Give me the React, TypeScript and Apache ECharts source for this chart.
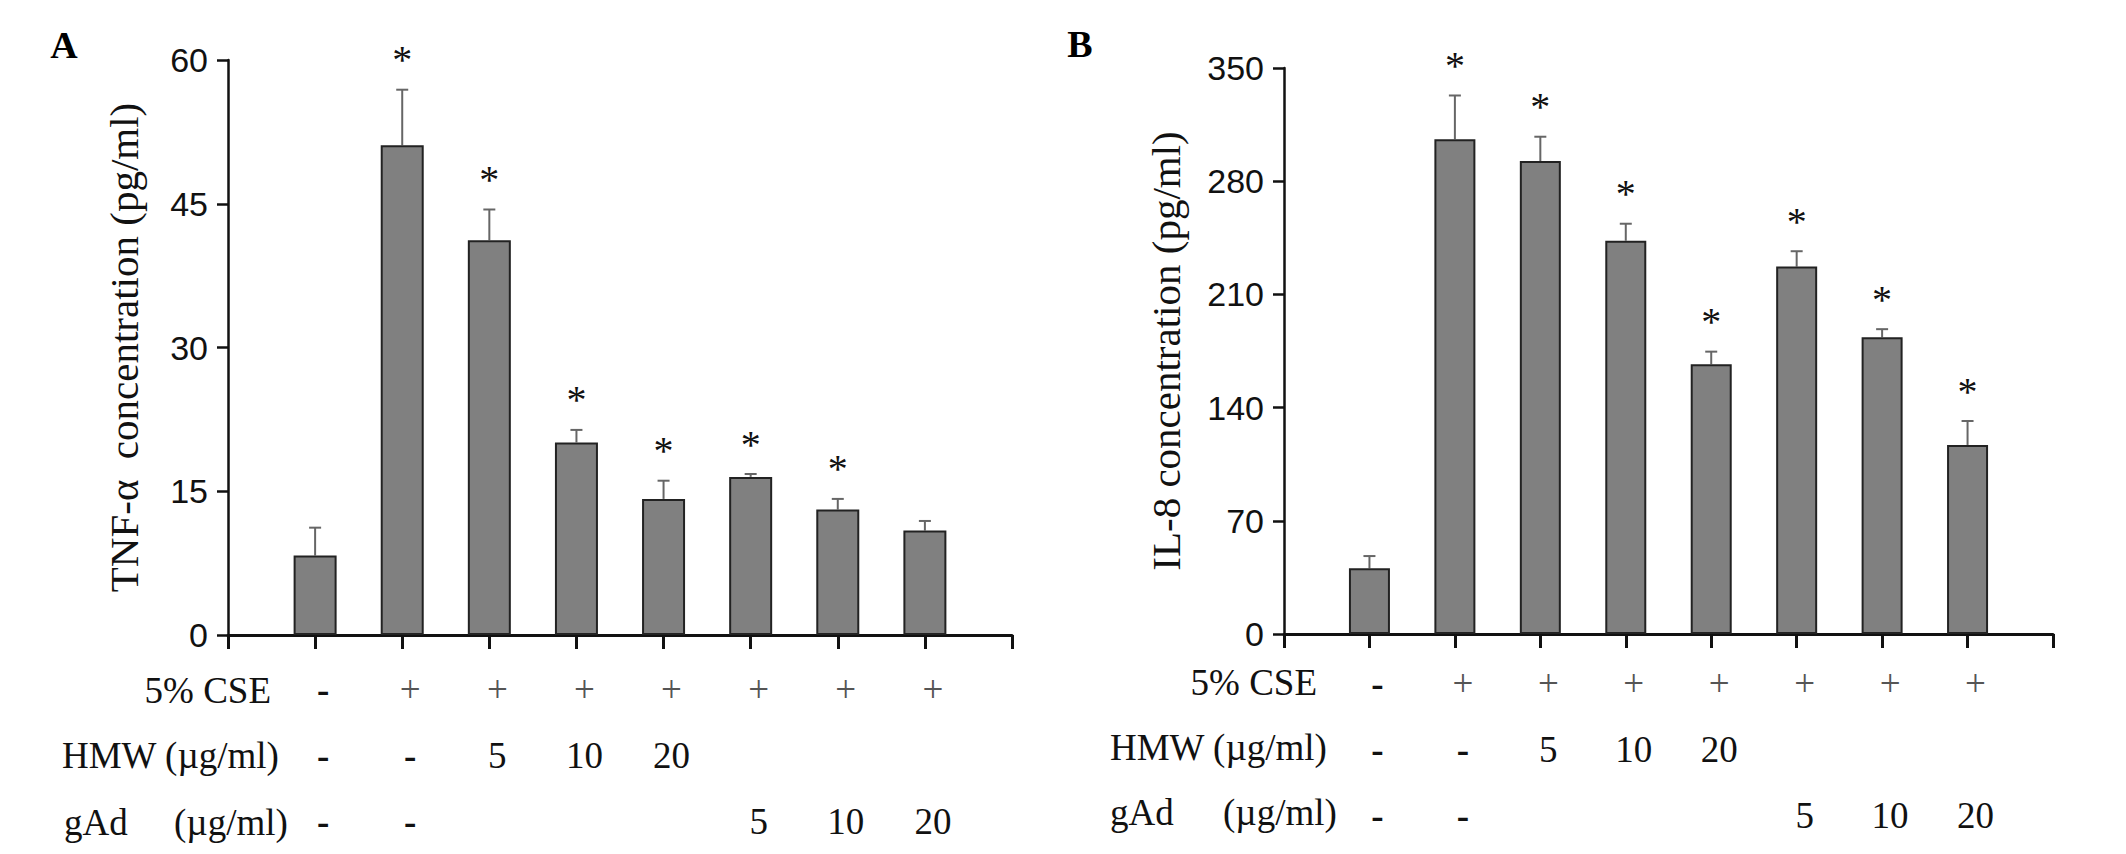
import React, { useEffect, useRef } from 'react';
import * as echarts from 'echarts';

// treatment groups (bars sit on slots 1..8, slots 0 and 9 are the axis ends)
const groups = ['Control', 'CSE', 'CSE+HMW5', 'CSE+HMW10', 'CSE+HMW20', 'CSE+gAd5', 'CSE+gAd10', 'CSE+gAd20'];
const cseRow = ['-', '+', '+', '+', '+', '+', '+', '+'];
const hmwRow = ['-', '-', '5', '10', '20', '', '', ''];
const gadRow = ['-', '-', '', '', '', '5', '10', '20'];

const tnfMean = [8.3, 51.1, 41.2, 20.1, 14.2, 16.5, 13.1, 10.9];
const tnfErr = [2.9, 5.8, 3.2, 1.3, 1.9, 0.3, 1.1, 1.0];
const tnfSig = [0, 1, 1, 1, 1, 1, 1, 0];
const tnfTicks = { min: 0, max: 60, interval: 15 };

const il8Mean = [40.6, 306, 292.5, 243.2, 166.8, 227.2, 183.5, 116.9];
const il8Err = [7.6, 27, 15, 10.5, 7.8, 9.5, 5, 14.8];
const il8Sig = [0, 1, 1, 1, 1, 1, 1, 1];
const il8Ticks = { min: 0, max: 350, interval: 70 };

const slots = ['', ...groups, ''];
const serif = '"Liberation Serif", "Times New Roman", serif';
const sans = '"Liberation Sans", Arial, sans-serif';

function cell(s: string) {
  if (s === '+') return '{p|+}';
  if (s === '-') return '{m|-}';
  return s || ' ';
}

function rowLabel(value: string, idx: number) {
  if (idx === 0 || idx === slots.length - 1) return '';
  const i = idx - 1;
  return `${cell(cseRow[i])}\n${cell(hmwRow[i])}\n${cell(gadRow[i])}`;
}

function xAxis(gridIndex: number, margin: number) {
  return {
    type: 'category',
    gridIndex,
    data: slots,
    boundaryGap: false,
    axisLine: { lineStyle: { color: '#111', width: 3 } },
    axisTick: { show: true, interval: 0, length: 14, lineStyle: { color: '#111', width: 3 } },
    axisLabel: {
      interval: 0,
      margin,
      formatter: rowLabel,
      fontFamily: serif,
      fontSize: 37,
      lineHeight: 66,
      color: '#111',
      padding: [0, 0, 0, 16],
      rich: {
        p: { fontFamily: serif, fontSize: 37, lineHeight: 66, color: '#555' },
        m: { fontFamily: serif, fontSize: 37, lineHeight: 66, color: '#111', fontWeight: 'bold' },
      },
    },
  };
}

function yAxis(gridIndex: number, ticks: any, name: string, nameGap: number) {
  return {
    type: 'value',
    gridIndex,
    ...ticks,
    name,
    nameLocation: 'middle',
    nameRotate: 90,
    nameGap,
    nameTextStyle: { fontFamily: serif, fontSize: 41, color: '#111' },
    axisLine: { show: true, lineStyle: { color: '#111', width: 2.5 } },
    axisTick: { show: true, length: 11, lineStyle: { color: '#111', width: 2.5 } },
    axisLabel: { fontFamily: sans, fontSize: 34, color: '#111', margin: 20 },
    splitLine: { show: false },
  };
}

function errorSeries(idx: number, mean: number[], err: number[], sig: number[]) {
  return {
    type: 'custom',
    xAxisIndex: idx,
    yAxisIndex: idx,
    z: 1,
    data: mean.map((v, i) => [i + 1, v, err[i], sig[i]]),
    encode: { x: 0, y: 1 },
    renderItem: (params: any, api: any) => {
      const x = api.value(0);
      const v = api.value(1);
      const e = api.value(2);
      const base = api.coord([x, v]);
      const top = api.coord([x, v + e]);
      const children: any[] = [
        { type: 'line', shape: { x1: top[0], y1: base[1], x2: top[0], y2: top[1] }, style: { stroke: '#666', lineWidth: 2 } },
        { type: 'line', shape: { x1: top[0] - 6, y1: top[1], x2: top[0] + 6, y2: top[1] }, style: { stroke: '#666', lineWidth: 2 } },
      ];
      if (api.value(3)) {
        children.push({
          type: 'text',
          style: { text: '*', x: top[0], y: top[1] - 30, align: 'center', verticalAlign: 'middle', font: `40px ${serif}`, fill: '#111' },
        });
      }
      return { type: 'group', children };
    },
  };
}

function barSeries(idx: number, mean: number[], width: number) {
  return {
    type: 'bar',
    xAxisIndex: idx,
    yAxisIndex: idx,
    barWidth: width,
    z: 2,
    data: mean.map((v, i) => [i + 1, v]),
    itemStyle: { color: '#808080', borderColor: '#222', borderWidth: 2 },
  };
}

function rowTitles(entries: [string, number, number, string][]) {
  return entries.map(([text, x, y, align]) => ({
    type: 'text',
    x,
    y,
    style: { text, align, verticalAlign: 'middle', font: `37px ${serif}`, fill: '#111' },
  }));
}

export default function App() {
  const ref = useRef<HTMLDivElement>(null);

  useEffect(() => {
    if (!ref.current) return;
    const chart = echarts.init(ref.current, null, { renderer: 'svg' });
    chart.setOption({
      animation: false,
      backgroundColor: '#fff',
      grid: [
        { left: 228, right: 1114, top: 60, bottom: 218 },
        { left: 1284, right: 73, top: 68, bottom: 220 },
      ],
      xAxis: [xAxis(0, 21), xAxis(1, 16)],
      yAxis: [
        yAxis(0, tnfTicks, 'TNF-α  concentration (pg/ml)', 84),
        yAxis(1, il8Ticks, 'IL-8 concentration (pg/ml)', 98),
      ],
      series: [
        errorSeries(0, tnfMean, tnfErr, tnfSig),
        barSeries(0, tnfMean, 43),
        errorSeries(1, il8Mean, il8Err, il8Sig),
        barSeries(1, il8Mean, 41),
      ],
      graphic: [
        { type: 'text', x: 64, y: 45, style: { text: 'A', align: 'center', verticalAlign: 'middle', font: `bold 38px ${serif}`, fill: '#000' } },
        { type: 'text', x: 1080, y: 44, style: { text: 'B', align: 'center', verticalAlign: 'middle', font: `bold 38px ${serif}`, fill: '#000' } },
        ...rowTitles([
          ['5% CSE', 271, 690, 'right'],
          ['HMW (µg/ml)', 62, 755, 'left'],
          ['gAd', 64, 822, 'left'],
          ['(µg/ml)', 174, 822, 'left'],
          ['5% CSE', 1317, 682, 'right'],
          ['HMW (µg/ml)', 1110, 747, 'left'],
          ['gAd', 1110, 812, 'left'],
          ['(µg/ml)', 1223, 812, 'left'],
        ]),
      ],
    });
    return () => chart.dispose();
  }, []);

  return <div ref={ref} style={{ position: 'fixed', left: 0, top: 0, width: 2126, height: 854 }} />;
}
